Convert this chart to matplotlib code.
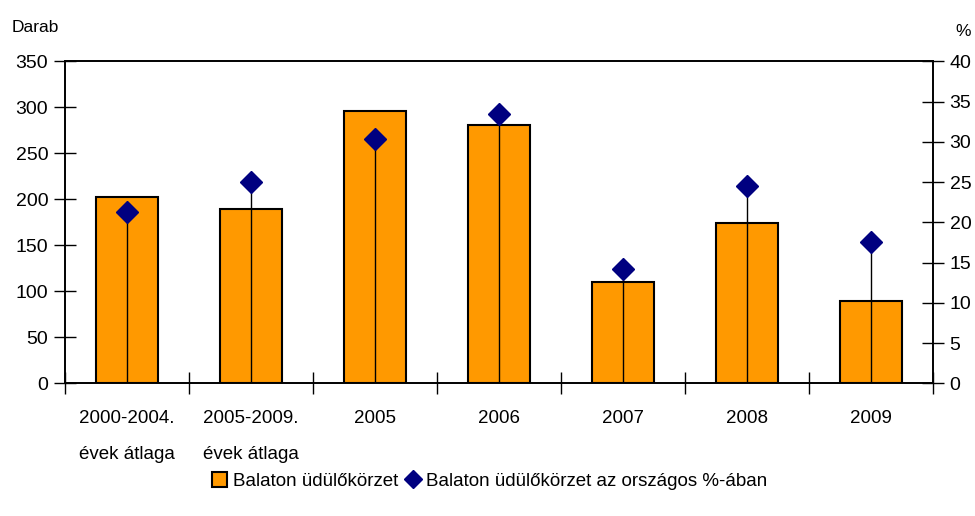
import matplotlib
matplotlib.use("Agg")
import matplotlib.pyplot as plt
from matplotlib.lines import Line2D
from matplotlib.patches import Patch
import numpy as np

categories = ["2000-2004.\névek átlaga", "2005-2009.\névek átlaga", "2005", "2006", "2007", "2008", "2009"]
bar_values = [202, 189, 296, 281, 110, 174, 89]
pct_values = [21.3, 25.0, 30.3, 33.5, 14.2, 24.5, 17.6]
left_ticks = [0, 50, 100, 150, 200, 250, 300, 350]
right_ticks = [0, 5, 10, 15, 20, 25, 30, 35, 40]
bar_label = "Balaton üdülőkörzet"
pct_label = "Balaton üdülőkörzet az országos %-ában"

plt.rcParams['font.family'] = ['Liberation Sans', 'DejaVu Sans']

fig = plt.figure(figsize=(9.75, 5.16), dpi=100)
ax = fig.add_axes([65/975, 1-383.3/516, (933-65)/975, (383.3-61.3)/516])
ax2 = ax.twinx()

x = np.arange(len(categories))
orange = "#FF9900"
navy = "#000080"

ax.bar(x, bar_values, width=0.5, color=orange, edgecolor="black", linewidth=1.5, zorder=2)
ax.set_ylim(0, 350)
ax.set_xlim(-0.5, len(categories) - 0.5)
ax.set_yticks(left_ticks)
ax.set_xticks(np.arange(len(categories) + 1) - 0.5)
ax.set_xticklabels([])
ax.set_xticks(x, minor=True)
ax.set_xticklabels(categories, minor=True, fontsize=13.5, linespacing=2.5)
ax.tick_params(axis='x', which='minor', length=0, pad=19)
ax.tick_params(axis='x', which='major', direction='inout', length=16, width=1)
ax.tick_params(axis='y', direction='inout', length=16, width=1, labelsize=14, pad=4)

ax2.set_ylim(0, 40)
ax2.set_yticks(right_ticks)
ax2.tick_params(axis='y', direction='inout', length=16, width=1, labelsize=14, pad=4)
ax2.vlines(x, 0, pct_values, color="black", linewidth=1, zorder=3)
ax2.plot(x, pct_values, linestyle="none", marker="D", markersize=11.5, color=navy, zorder=4)

for a in (ax, ax2):
    for s in a.spines.values():
        s.set_linewidth(1.2)
        s.set_color("black")

fig.text(12/975, 1-28/516, "Darab", fontsize=12.5, va="center", ha="left")
fig.text(963/975, 1-32/516, "%", fontsize=12.5, va="center", ha="center")

handles = [Patch(facecolor=orange, edgecolor="black", linewidth=1.5, label=bar_label),
           Line2D([], [], linestyle="none", marker="D", markersize=9, color=navy, label=pct_label)]
fig.legend(handles=handles, loc="center", bbox_to_anchor=(490/975, 1-481/516), ncol=2,
           frameon=False, fontsize=13.5, handlelength=0.8, handleheight=0.8, handletextpad=0.3,
           columnspacing=0.4)

fig.savefig("out.png", dpi=100)
